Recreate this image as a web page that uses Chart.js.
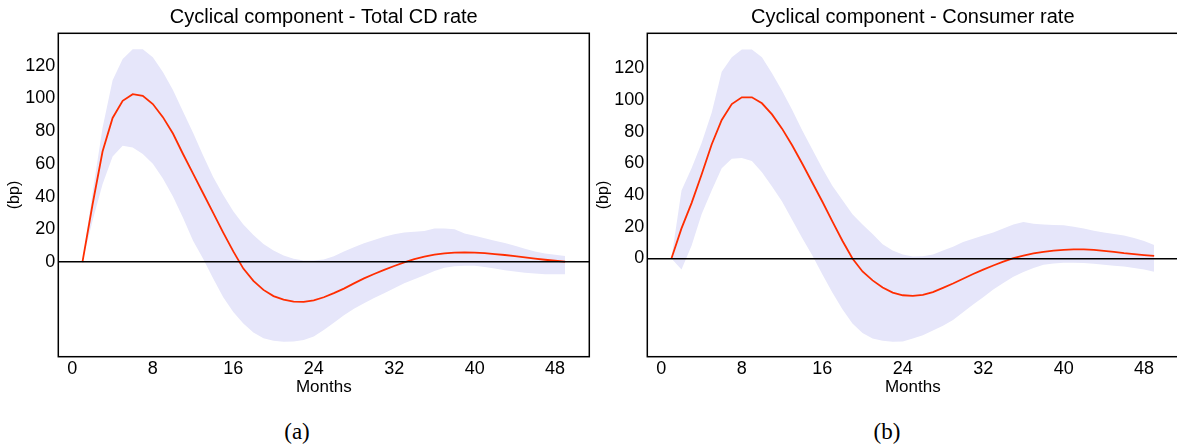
<!DOCTYPE html>
<html>
<head>
<meta charset="utf-8">
<script src="https://cdn.jsdelivr.net/npm/chart.js@4.4.1/dist/chart.umd.min.js"></script>
<style>
  html, body { margin: 0; padding: 0; background: #fff; overflow: hidden; }
  #wrap { position: relative; width: 1177px; height: 444px; overflow: hidden; }
  .panel { position: absolute; top: 0; }
  .caption { position: absolute; top: 419px; width: 60px; text-align: center;
             font-family: 'Liberation Serif', 'DejaVu Serif', serif; font-size: 23px; line-height: 26px; color: #000; }
</style>
</head>
<body>
<div id="wrap">
  <canvas id="chart-a" class="panel" width="592" height="400" style="left:0px"></canvas>
  <canvas id="chart-b" class="panel" width="592" height="400" style="left:589px"></canvas>
  <div class="caption" style="left:267px">(a)</div>
  <div class="caption" style="left:857px">(b)</div>
</div>
<script>
// horizon (months after the shock)
const months = [1, 2, 3, 4, 5, 6, 7, 8, 9, 10, 11, 12, 13, 14, 15, 16, 17, 18, 19, 20,
  21, 22, 23, 24, 25, 26, 27, 28, 29, 30, 31, 32, 33, 34, 35, 36, 37, 38, 39, 40,
  41, 42, 43, 44, 45, 46, 47, 48, 49];
const xTicks = [0, 8, 16, 24, 32, 40, 48];
const yTicks = [0, 20, 40, 60, 80, 100, 120];

// (a) Total CD rate
const cdMean = [0, 35, 67.5, 88, 98.5, 102.5, 101.5, 96.5, 88.5, 78.5,
  66, 54, 42, 30, 18, 6.5, -4, -11.5, -17, -20.8,
  -23, -24.2, -24.3, -23.4, -21.5, -19, -16.2, -13, -10, -7.3,
  -4.8, -2.4, -0.2, 1.8, 3.3, 4.5, 5.3, 5.8, 5.9, 5.8,
  5.4, 4.9, 4.3, 3.6, 2.9, 2.1, 1.4, 0.8, 0.2];
const cdUpper = [0, 42, 82, 111, 124, 130, 130, 125, 116, 105,
  92, 79, 65, 52, 41, 31, 23, 16.5, 11, 7,
  4, 2, 1, 1, 1.5, 3.5, 6.5, 9, 11.5, 13.5,
  15.5, 17, 18, 18.5, 19, 20.5, 20.5, 20, 17.5, 16,
  14.5, 13, 11.6, 10, 8.2, 6.5, 5.3, 4.5, 3.7];
const cdLower = [0, 25, 47.5, 64.5, 71, 70, 66, 60, 51, 40,
  27, 13, 2, -10, -21.5, -30.5, -37.5, -43, -46.5, -48,
  -48.7, -48.5, -47.6, -45.5, -41.5, -37, -32.5, -28.5, -25.2, -22,
  -19, -16, -13, -10.5, -8, -5.5, -3.5, -2.5, -2.2, -2.2,
  -3, -4, -5, -5.8, -6.5, -7, -7.5, -7.5, -7.5];

// (b) Consumer rate
const consMean = [0, 19, 35, 53, 72, 87.5, 97.5, 101.8, 101.8, 98,
  91, 82, 71.5, 60, 48, 36, 23.5, 11.2, 0, -8.2,
  -13.8, -18.3, -21.5, -23.2, -23.6, -23, -21.2, -18.5, -15.8, -12.8,
  -9.8, -7, -4.4, -2, 0.2, 1.8, 3.2, 4.2, 5, 5.5,
  5.8, 5.8, 5.4, 4.8, 4.2, 3.4, 2.8, 2.2, 1.6];
const consUpper = [0, 43, 57, 73, 92, 118, 127, 132, 132, 127,
  117, 106, 94, 81, 69, 57, 46, 37, 28, 21.5,
  15.5, 9, 5, 2.5, 1.2, 1.5, 2.5, 5, 7.5, 10.5,
  12.5, 14.5, 16.5, 19, 21.5, 23, 22, 21.5, 21.2, 21,
  20, 19, 17.5, 16.5, 15.5, 14.5, 13, 11, 8.6];
const consLower = [0, -7, 8, 28, 43, 57, 63, 63.5, 61.5, 54.5,
  45.5, 36, 24.5, 13, 2, -10, -21.5, -32, -41, -47,
  -50.5, -52, -52.5, -52.4, -50.5, -48.5, -45.5, -42.5, -38.8, -34,
  -29, -24.5, -19.5, -15.5, -11.5, -8.5, -6, -4, -3.2, -2.6,
  -2.6, -2.8, -3.3, -4, -4.6, -5.1, -6, -7, -8.3];

const FONT = "'Liberation Sans', Arial, Helvetica, sans-serif";

// box around the plot area
const framePlugin = {
  id: 'frame',
  afterDraw(chart) {
    const { ctx, chartArea: a } = chart;
    ctx.save();
    ctx.strokeStyle = '#000';
    ctx.lineWidth = 1.5;
    ctx.strokeRect(a.left, a.top, a.right - a.left, a.bottom - a.top);
    ctx.restore();
  }
};

function toPoints(values) {
  return months.map((m, i) => ({ x: m, y: values[i] }));
}

function buildChart(id, titleText, mean, upper, lower, yMin, yMax) {
  return new Chart(document.getElementById(id), {
    type: 'line',
    data: {
      datasets: [
        { label: 'IRF', data: toPoints(mean), borderColor: 'rgb(255, 45, 0)', borderWidth: 1.8,
          pointRadius: 0, fill: false, tension: 0 },
        { label: 'Upper', data: toPoints(upper), borderColor: 'rgba(0,0,0,0)', borderWidth: 0,
          backgroundColor: 'rgb(230, 230, 250)', pointRadius: 0, fill: '+1' },
        { label: 'Lower', data: toPoints(lower), borderColor: 'rgba(0,0,0,0)', borderWidth: 0,
          pointRadius: 0, fill: false }
      ]
    },
    options: {
      responsive: false,
      animation: false,
      devicePixelRatio: 1,
      layout: { padding: { left: 0, right: 2.7, top: 0, bottom: 0 } },
      plugins: {
        legend: { display: false },
        tooltip: { enabled: false },
        title: {
          display: true,
          text: titleText,
          fullSize: false,
          color: '#000',
          font: { family: FONT, size: 20, weight: 'normal' },
          padding: { top: 5, bottom: 4.3 }
        }
      },
      scales: {
        x: {
          type: 'linear',
          min: -1.4,
          max: 51.4,
          afterBuildTicks: s => { s.ticks = xTicks.map(v => ({ value: v })); },
          afterFit: s => { s.height = 43.3; },
          grid: { display: false, drawTicks: false },
          border: { display: false },
          ticks: { color: '#000', font: { family: FONT, size: 18 }, padding: 1.5, autoSkip: false, maxRotation: 0 },
          title: { display: true, text: 'Months', color: '#000', font: { family: FONT, size: 17 },
                   padding: { top: 0, bottom: 2.8 } }
        },
        y: {
          min: yMin,
          max: yMax,
          afterBuildTicks: s => { s.ticks = yTicks.map(v => ({ value: v })); },
          afterFit: s => { s.width = 58.3; },
          grid: {
            z: 1,
            drawTicks: false,
            lineWidth: 1.5,
            color: c => (c.tick && c.tick.value === 0 ? '#000' : 'rgba(0,0,0,0)')
          },
          border: { display: false },
          ticks: { color: '#000', font: { family: FONT, size: 18 }, padding: 3 },
          title: { display: true, text: '(bp)', color: '#000', font: { family: FONT, size: 16 },
                   padding: { top: 5.4, bottom: 0 } }
        }
      }
    },
    plugins: [framePlugin]
  });
}

buildChart('chart-a', 'Cyclical component - Total CD rate', cdMean, cdUpper, cdLower, -57.8, 139.7);
buildChart('chart-b', 'Cyclical component - Consumer rate', consMean, consUpper, consLower, -62, 142.2);
</script>
</body>
</html>
